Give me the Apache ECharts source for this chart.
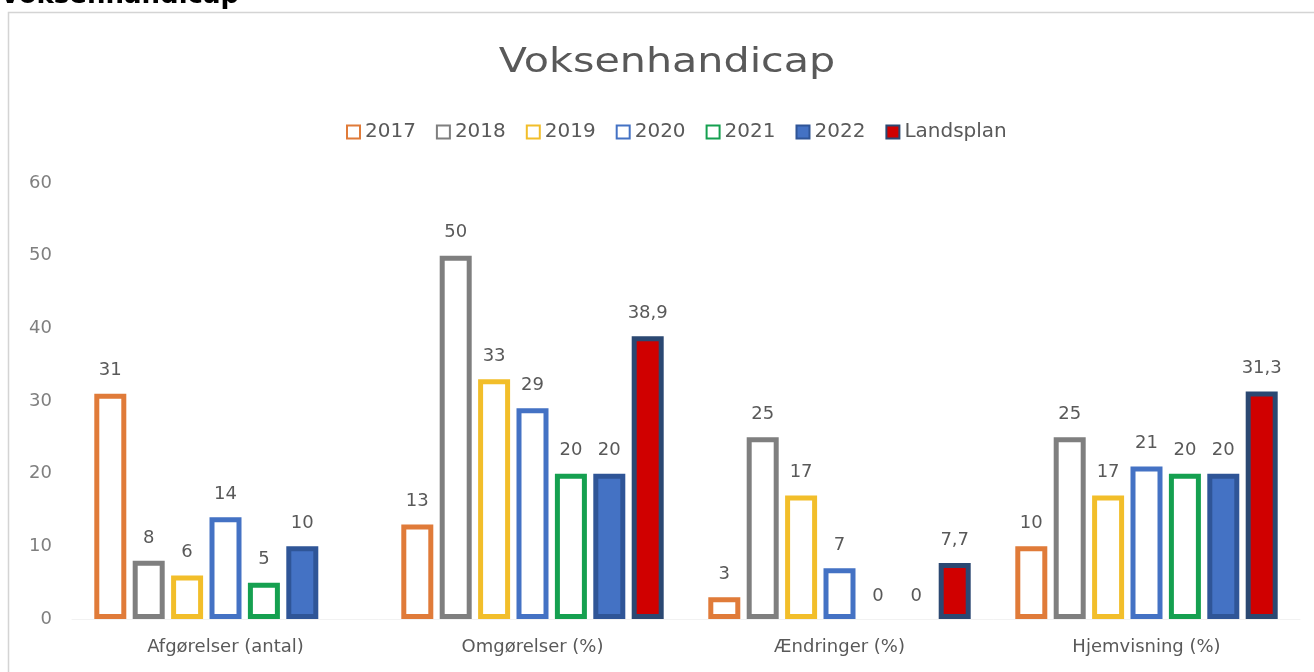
<!DOCTYPE html>
<html>
<head>
<meta charset="utf-8">
<script src="https://cdn.jsdelivr.net/npm/echarts@6/dist/echarts.min.js"></script>
<style>
  html, body { margin: 0; padding: 0; background: #fff; }
  #chart { width: 1314px; height: 672px; }
</style>
</head>
<body>
<div id="chart"></div>
<script>
var categories = ['Afgørelser (antal)', 'Omgørelser (%)', 'Ændringer (%)', 'Hjemvisning (%)'];
var seriesNames = ['2017', '2018', '2019', '2020', '2021', '2022', 'Landsplan'];
var v2017 = [31, 13, 3, 10];
var v2018 = [8, 50, 25, 25];
var v2019 = [6, 33, 17, 17];
var v2020 = [14, 29, 7, 21];
var v2021 = [5, 20, 0, 20];
var v2022 = [10, 20, 0, 20];
var vLandsplan = [null, 38.9, 7.7, 31.3];
var yTicks = [0, 10, 20, 30, 40, 50, 60];

var allValues = [v2017, v2018, v2019, v2020, v2021, v2022, vLandsplan];
var fills = ['#ffffff', '#ffffff', '#ffffff', '#ffffff', '#ffffff', '#4472C4', '#D00000'];
var borders = ['#E07B39', '#7F7F7F', '#F2BE2A', '#4472C4', '#15A050', '#2F5597', '#2B4872'];
var font = 'DejaVu Sans';

var chartDom = document.getElementById('chart');
var chart = echarts.init(chartDom);

var series = seriesNames.map(function (name, i) {
    return {
        name: name,
        type: 'bar',
        barWidth: 32,
        barGap: '20%',
        itemStyle: {
            color: fills[i],
            borderColor: borders[i],
            borderWidth: 5
        },
        label: {
            show: true,
            position: 'top',
            distance: 14,
            color: '#595959',
            fontSize: 18,
            fontFamily: font,
            formatter: function (p) {
                return String(p.value).replace('.', ',');
            }
        },
        data: allValues[i].map(function (v) {
            if (v === null) return '-';
            if (v === 0) return { value: 0, itemStyle: { borderWidth: 0 } };
            return v;
        })
    };
});

var option = {
    animation: false,
    textStyle: { fontFamily: font },
    graphic: [
        {
            type: 'rect',
            shape: { x: 8.5, y: 12.5, width: 1320, height: 680 },
            style: { fill: 'none', stroke: '#d4d4d4', lineWidth: 1.5 }
        },
        {
            type: 'text',
            left: 0,
            top: -17,
            style: { text: 'Voksenhandicap', fontSize: 26, fontWeight: 'bold', fill: '#000', fontFamily: font }
        },
        {
            type: 'text',
            x: 667,
            y: 63,
            scaleX: 1.25,
            style: {
                text: 'Voksenhandicap', fontSize: 33, fill: '#595959', fontFamily: font,
                align: 'center', verticalAlign: 'middle'
            }
        }
    ],
    legend: {
        top: 117,
        left: 341,
        icon: 'rect',
        itemWidth: 13,
        itemHeight: 13,
        itemGap: 20,
        textStyle: { fontSize: 20, color: '#595959', fontFamily: font },
        data: seriesNames
    },
    grid: { left: 72, right: 14, top: 183, bottom: 53 },
    xAxis: {
        type: 'category',
        data: categories,
        axisLine: { show: true, lineStyle: { color: '#f2f2f2' } },
        axisTick: { show: false },
        axisLabel: { color: '#595959', fontSize: 18, margin: 19, fontFamily: font }
    },
    yAxis: {
        type: 'value',
        min: yTicks[0],
        max: yTicks[yTicks.length - 1],
        interval: 10,
        splitLine: { show: false },
        axisLine: { show: false },
        axisTick: { show: false },
        axisLabel: { color: '#7f7f7f', fontSize: 18, margin: 20, fontFamily: font }
    },
    series: series
};

chart.setOption(option);
</script>
</body>
</html>
